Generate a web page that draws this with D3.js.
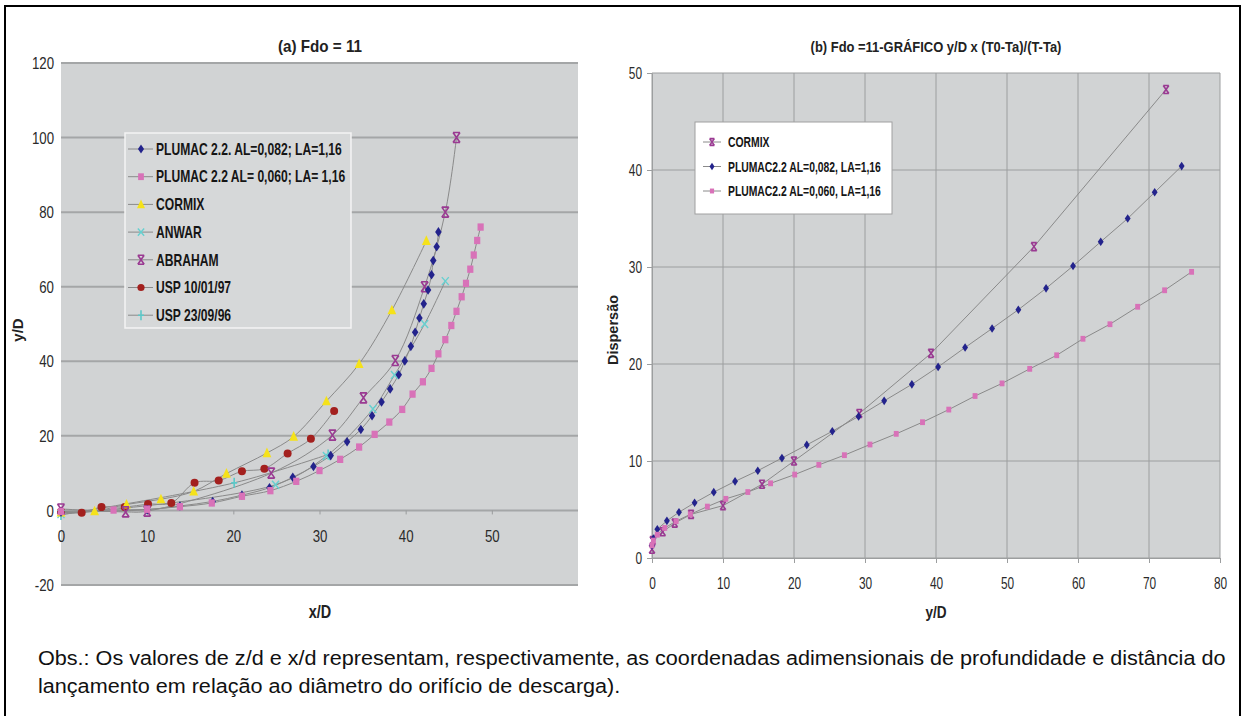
<!DOCTYPE html>
<html><head><meta charset="utf-8">
<script src="https://cdn.jsdelivr.net/npm/d3@7"></script>
<style>body{margin:0;background:#fff}svg{display:block}</style>
</head><body>
<svg id="c" width="1246" height="716"></svg>
<script>
// ---------- DATA: chart (a) ----------
const aPlumac082 = [[0,-0.5],[10,0.2],[13.8,1.2],[17.6,2.4],[21,4.1],[24.2,6.1],[26.9,8.9],[29.3,11.8],[31.3,14.7],[33.2,18.4],[34.8,21.7],[36.1,25.4],[37.2,29.1],[38.2,32.6],[39.2,36.4],[39.9,40.1],[40.6,44],[41.1,47.8],[41.6,51.6],[42.1,55.4],[42.6,59.1],[43.0,63.2],[43.2,67],[43.6,70.7],[43.8,74.7]];
const aPlumac060 = [[0,-0.3],[6.1,0.1],[10,0.3],[13.8,1.0],[17.5,2.0],[21,3.8],[24.3,5.3],[27.3,7.8],[30,10.7],[32.4,13.7],[34.6,17],[36.4,20.4],[38.1,23.7],[39.6,27.1],[40.8,31.2],[42,34.5],[43,38.1],[43.8,42],[44.6,45.8],[45.3,49.6],[45.9,53.4],[46.5,57.3],[47,60.9],[47.5,64.7],[47.9,68.5],[48.3,72.4],[48.7,76]];
const aCormix = [[0,-0.5],[3.9,-0.2],[7.6,1.6],[11.6,3.0],[15.4,5.1],[19.2,9.9],[23.9,15.4],[27,19.8],[30.8,29.3],[34.6,39.3],[38.4,53.7],[42.4,72.3]];
const aAnwar = [[0,-1],[24.9,6.9],[30.8,14.6],[36.2,27.2],[38.7,36.3],[42.2,50],[44.6,61.5]];
const aAbraham = [[0,0.4],[7.5,-0.4],[10,-0.2],[24.4,10],[31.5,20.2],[35.1,30.2],[38.8,40.2],[42.2,60],[44.6,80],[45.9,100]];
const aUsp97 = [[0,-0.3],[2.4,-0.6],[4.7,0.9],[7.4,0.9],[10.1,1.7],[12.8,2.0],[15.5,7.4],[18.3,8.0],[21,10.5],[23.6,11.2],[26.3,15.3],[29,19.2],[31.7,26.7]];
const aUsp96 = [[0,-1.2],[20.1,7.4],[31,15]];
const aXTicks = [0,10,20,30,40,50];
const aYTicks = [-20,0,20,40,60,80,100,120];
const aNames = ["PLUMAC 2.2. AL=0,082; LA=1,16","PLUMAC 2.2 AL= 0,060; LA= 1,16","CORMIX","ANWAR","ABRAHAM","USP 10/01/97","USP 23/09/96"];

// ---------- DATA: chart (b) ----------
const bCormix = [[0,0.9],[0.1,1.8],[1.5,2.7],[3.2,3.6],[5.5,4.5],[10,5.4],[15.5,7.6],[20,10],[29.2,14.9],[39.3,21.1],[53.8,32.1],[72.4,48.3]];
const bPlumac082 = [[0,1.3],[0.2,2.0],[0.75,2.97],[2.1,3.83],[3.8,4.72],[6.0,5.69],[8.7,6.79],[11.7,7.9],[14.9,9.0],[18.3,10.3],[21.8,11.66],[25.4,13.07],[29.1,14.6],[32.7,16.2],[36.6,17.9],[40.3,19.7],[44.1,21.7],[47.9,23.66],[51.6,25.6],[55.5,27.8],[59.3,30.1],[63.2,32.6],[67.0,35.0],[70.8,37.7],[74.6,40.4]];
const bPlumac060 = [[0,1.3],[0.2,1.8],[0.75,2.4],[1.8,3.1],[3.4,3.8],[5.4,4.5],[7.8,5.3],[10.4,6.1],[13.5,6.8],[16.7,7.7],[20.1,8.6],[23.5,9.6],[27.1,10.6],[30.7,11.7],[34.4,12.8],[38.1,14.0],[41.8,15.3],[45.5,16.7],[49.3,18.0],[53.2,19.5],[57.0,20.9],[60.7,22.6],[64.5,24.1],[68.4,25.9],[72.2,27.6],[76.0,29.5]];
const bXTicks = [0,10,20,30,40,50,60,70,80];
const bYTicks = [0,10,20,30,40,50];
const bNames = ["CORMIX","PLUMAC2.2 AL=0,082, LA=1,16","PLUMAC2.2 AL=0,060, LA=1,16"];

const obsLines = ["Obs.: Os valores de z/d e x/d representam, respectivamente, as coordenadas adimensionais de profundidade e distância do",
                  "lançamento em relação ao diâmetro do orifício de descarga)."];

// ---------- drawing ----------
const SANS = "'Liberation Sans',Arial,sans-serif";
const svg = d3.select("#c");
svg.append("rect").attr("width",1246).attr("height",716).attr("fill","#fff");

// horizontally scaled text (simulates the narrow face of the original)
function stext(parent, o){
  const g = parent.append("g");
  const t = g.append("text").attr("text-anchor",o.anchor||"start")
    .attr("font-family",SANS).attr("font-size",o.size).attr("font-weight",o.weight||"normal")
    .attr("fill",o.fill||"#1a1a1a").attr("dy",o.dy||0).text(o.text);
  let s = o.sx || 1;
  if(o.fit){ s = o.fit / t.node().getComputedTextLength(); }
  g.attr("transform",`translate(${o.x},${o.y}) ${o.rot?`rotate(${o.rot})`:""} scale(${s},1)`);
  return s;
}

function marker(g, type, color, size){
  const s = size;
  if(type==="diamond"){
    g.append("path").attr("d",`M0,${-s}L${s*0.68},0L0,${s}L${-s*0.68},0Z`).attr("fill",color);
  } else if(type==="square"){
    g.append("rect").attr("x",-s*0.72).attr("y",-s*0.85).attr("width",s*1.44).attr("height",s*1.7).attr("fill",color);
  } else if(type==="triangle"){
    g.append("path").attr("d",`M0,${-s}L${s*0.8},${s*0.75}L${-s*0.8},${s*0.75}Z`).attr("fill",color);
  } else if(type==="circle"){
    g.append("circle").attr("r",s*0.8).attr("fill",color);
  } else if(type==="xbar"){
    g.append("path").attr("d",`M${-s*0.7},${-s}L${s*0.7},${s}M${s*0.7},${-s}L${-s*0.7},${s}M${-s*0.7},${-s}H${s*0.7}M${-s*0.7},${s}H${s*0.7}`)
      .attr("stroke",color).attr("stroke-width",1.6).attr("fill","none");
  } else if(type==="x"){
    g.append("path").attr("d",`M${-s*0.7},${-s*0.8}L${s*0.7},${s*0.8}M${s*0.7},${-s*0.8}L${-s*0.7},${s*0.8}`)
      .attr("stroke",color).attr("stroke-width",1.4).attr("fill","none");
  } else if(type==="plus"){
    g.append("path").attr("d",`M0,${-s}V${s}M${-s*0.6},0H${s*0.6}`)
      .attr("stroke",color).attr("stroke-width",1.6).attr("fill","none");
  }
}

// outer frame
svg.append("path").attr("d","M5,718V6H1240V718").attr("fill","none").attr("stroke","#000").attr("stroke-width",2);

// ===== Chart (a) =====
const xA = d3.scaleLinear().domain([0,60]).range([61,578]);
const yA = d3.scaleLinear().domain([-20,120]).range([585,63]);
const gA = svg.append("g");
gA.append("rect").attr("x",xA(0)).attr("y",yA(120)).attr("width",xA(60)-xA(0)).attr("height",yA(-20)-yA(120)).attr("fill","#d1d3d4");
gA.selectAll("line.grid").data(aYTicks).join("line")
  .attr("x1",xA(0)).attr("x2",xA(60)).attr("y1",d=>yA(d)).attr("y2",d=>yA(d))
  .attr("stroke","#a4a6a7").attr("stroke-width",2);
aYTicks.forEach(d=>stext(gA,{x:xA(0)-7,y:yA(d),dy:"0.36em",anchor:"end",size:17,sx:0.78,text:String(d),fill:"#2a2a2a"}));
const axA = gA.append("g").attr("transform",`translate(0,${yA(0)})`)
  .call(d3.axisBottom(xA).tickValues(aXTicks).tickSize(4).tickPadding(16).tickSizeOuter(0));
axA.select(".domain").remove();
axA.selectAll(".tick line").attr("stroke","#9a9c9d");
axA.selectAll(".tick text").attr("font-family",SANS).attr("font-size",17).attr("fill","#2a2a2a")
  .attr("transform","scale(0.78,1)");

const lineA = d3.line().x(d=>xA(d[0])).y(d=>yA(d[1])).curve(d3.curveCatmullRom.alpha(0.5));
const aSeries = [
  {data:aUsp96, type:"plus", color:"#5cc8c8", size:5},
  {data:aUsp97, type:"circle", color:"#a3201e", size:5},
  {data:aAnwar, type:"x", color:"#66d0d0", size:5},
  {data:aCormix, type:"triangle", color:"#f5e21a", size:5.5},
  {data:aAbraham, type:"xbar", color:"#9a3a92", size:5},
  {data:aPlumac082, type:"diamond", color:"#23238c", size:4.8},
  {data:aPlumac060, type:"square", color:"#d872b8", size:4.3}
];
aSeries.forEach(s=>{
  gA.append("path").datum(s.data).attr("d",lineA).attr("fill","none").attr("stroke","#8a8a8a").attr("stroke-width",1);
});
aSeries.forEach(s=>{
  s.data.forEach(p=>{
    const g = gA.append("g").attr("transform",`translate(${xA(p[0])},${yA(p[1])})`);
    marker(g, s.type, s.color, s.size);
  });
});
// legend (a)
const legA = gA.append("g");
legA.append("rect").attr("x",125).attr("y",133).attr("width",226).attr("height",195)
  .attr("fill","#d6d8d9").attr("stroke","#f4f4f4").attr("stroke-width",1.5);
const aLegTypes = [["diamond","#23238c",4.5],["square","#d872b8",4],["triangle","#f5e21a",5],["x","#66d0d0",4.5],["xbar","#9a3a92",4.5],["circle","#a3201e",4.5],["plus","#5cc8c8",5]];
let legScale = null;
aNames.forEach((n,i)=>{
  const yy = 149 + i*27.7;
  legA.append("line").attr("x1",128).attr("x2",153).attr("y1",yy).attr("y2",yy).attr("stroke","#8a8a8a");
  const g = legA.append("g").attr("transform",`translate(141,${yy})`);
  marker(g, aLegTypes[i][0], aLegTypes[i][1], aLegTypes[i][2]);
  if(i===0) legScale = stext(legA,{x:156,y:yy,dy:"0.36em",size:16,weight:"bold",fit:186,text:n,fill:"#151515"});
  else stext(legA,{x:156,y:yy,dy:"0.36em",size:16,weight:"bold",sx:legScale,text:n,fill:"#151515"});
});
stext(gA,{x:320,y:52,anchor:"middle",size:17,weight:"bold",fit:84,text:"(a) Fdo = 11",fill:"#222"});
stext(gA,{x:320,y:618,anchor:"middle",size:18,weight:"bold",sx:0.8,text:"x/D",fill:"#222"});
stext(gA,{x:23,y:330,rot:-90,anchor:"middle",size:15,weight:"bold",sx:1,text:"y/D",fill:"#222"});

// ===== Chart (b) =====
const xB = d3.scaleLinear().domain([0,80]).range([652,1220]);
const yB = d3.scaleLinear().domain([0,50]).range([558,73]);
const gB = svg.append("g");
gB.append("rect").attr("x",xB(0)).attr("y",yB(50)).attr("width",xB(80)-xB(0)).attr("height",yB(0)-yB(50)).attr("fill","#d1d3d4");
gB.selectAll("line.vg").data(bXTicks).join("line")
  .attr("x1",d=>xB(d)).attr("x2",d=>xB(d)).attr("y1",yB(0)).attr("y2",yB(50)).attr("stroke","#9c9e9f").attr("stroke-width",1);
gB.selectAll("line.hg").data(bYTicks).join("line")
  .attr("x1",xB(0)).attr("x2",xB(80)).attr("y1",d=>yB(d)).attr("y2",d=>yB(d)).attr("stroke","#9c9e9f").attr("stroke-width",1);
const axBx = gB.append("g").attr("transform",`translate(0,${yB(0)})`)
  .call(d3.axisBottom(xB).tickValues(bXTicks).tickSize(5).tickPadding(14).tickSizeOuter(0));
axBx.select(".domain").attr("stroke","#9c9e9f");
axBx.selectAll(".tick line").attr("stroke","#9c9e9f");
axBx.selectAll(".tick text").attr("font-family",SANS).attr("font-size",17).attr("fill","#2a2a2a")
  .attr("transform","scale(0.7,1)");
const axBy = gB.append("g").attr("transform",`translate(${xB(0)},0)`)
  .call(d3.axisLeft(yB).tickValues(bYTicks).tickSize(5).tickPadding(0).tickSizeOuter(0));
axBy.select(".domain").attr("stroke","#9c9e9f");
axBy.selectAll(".tick line").attr("stroke","#9c9e9f");
axBy.selectAll(".tick text").attr("font-family",SANS).attr("font-size",17).attr("fill","#2a2a2a")
  .attr("x",0).attr("transform","translate(-10,0) scale(0.7,1)");

const lineB = d3.line().x(d=>xB(d[0])).y(d=>yB(d[1]));
const bSeries = [
  {data:bCormix, type:"xbar", color:"#9a3a92", size:4},
  {data:bPlumac082, type:"diamond", color:"#23238c", size:4.3},
  {data:bPlumac060, type:"square", color:"#d872b8", size:3.4}
];
bSeries.forEach(s=>{
  gB.append("path").datum(s.data).attr("d",lineB).attr("fill","none").attr("stroke","#8a8a8a").attr("stroke-width",1);
});
bSeries.forEach(s=>{
  s.data.forEach(p=>{
    const g = gB.append("g").attr("transform",`translate(${xB(p[0])},${yB(p[1])})`);
    marker(g, s.type, s.color, s.size);
  });
});
const legB = gB.append("g");
legB.append("rect").attr("x",695).attr("y",122).attr("width",197).attr("height",92)
  .attr("fill","#fff").attr("stroke","#a0a0a0").attr("stroke-width",1);
let legScaleB = null;
[1,0,2].forEach(i=>{
  const n = bNames[i];
  const yy = 142 + i*24.5;
  legB.append("line").attr("x1",703).attr("x2",721).attr("y1",yy).attr("y2",yy).attr("stroke","#8a8a8a");
  const g = legB.append("g").attr("transform",`translate(712,${yy})`);
  marker(g, bSeries[i].type, bSeries[i].color, bSeries[i].size*0.85);
  if(legScaleB===null) legScaleB = stext(legB,{x:728,y:yy,dy:"0.36em",size:14,weight:"bold",fit:153,text:n,fill:"#151515"});
  else stext(legB,{x:728,y:yy,dy:"0.36em",size:14,weight:"bold",sx:legScaleB,text:n,fill:"#151515"});
});
stext(gB,{x:936,y:52,anchor:"middle",size:15,weight:"bold",fit:251,text:"(b) Fdo =11-GRÁFICO y/D x (T0-Ta)/(T-Ta)",fill:"#222"});
stext(gB,{x:936,y:618,anchor:"middle",size:17,weight:"bold",sx:0.8,text:"y/D",fill:"#222"});
stext(gB,{x:618,y:330,rot:-90,anchor:"middle",size:14.5,weight:"bold",sx:1,text:"Dispersão",fill:"#222"});

// ===== Obs text =====
let obsScale = null;
obsLines.forEach((t,i)=>{
  if(i===0) obsScale = stext(svg,{x:38,y:665+i*28,size:21,fit:1188,text:t,fill:"#111"});
  else stext(svg,{x:38,y:665+i*28,size:21,sx:obsScale,text:t,fill:"#111"});
});
</script>
</body></html>
